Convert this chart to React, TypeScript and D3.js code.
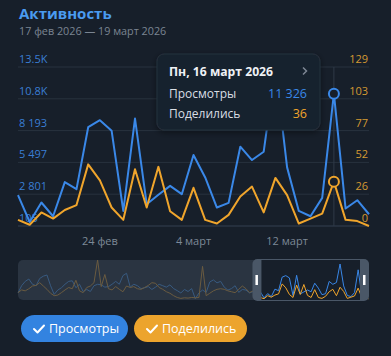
import React from 'react';
import * as d3 from 'd3';

// ---- data ----
const seriesNames = ['Просмотры', 'Поделились'];
const windowStart = new Date(2026, 1, 17);
const views = [2718, 445, 2096, 930, 3824, 3228, 8479, 9075, 8189, 1382, 9211, 1952, 2750, 3509, 2803, 6122, 4224, 1671, 2062, 6828, 5696, 6402, 13585, 5075, 1382, 930, 2488, 11326, 1586, 2292, 1100];
const shares = [5, 1, 11, 6, 13, 17, 50, 37, 15, 5, 46, 15, 48, 12, 5, 31, 5, 2, 9, 24, 32, 11, 39, 25, 2, 6, 10, 36, 5, 4, 0];
// earlier days (overview only)
const priorViews = [2351, 5159, 6843, 7741, 5720, 5159, 7966, 8864, 9314, 5159, 1790, 3474, 4372, 5720, 6843, 7068, 4372, 5720, 2913, 3699, 2913, 5159, 5720, 5495, 4597, 4822, 5720, 6843, 5720, 9089, 9987, 4597, 5720, 5159, 4036, 4372, 4822, 3699, 4597, 5720, 5159, 4597, 5495, 4036, 3249, 2351, 3699, 2913, 4036, 105, 2351, 3474, 2576, 6618, 7404, 6282, 6843, 4597, 3474, 4036, 5159, 2576, 3699, 3474, 2351, 2913, 1790];
const priorShares = [21, 30, 27, 34, 43, 45, 54, 43, 32, 19, 11, 13, 21, 30, 38, 34, 62, 27, 21, 38, 43, 54, 129, 41, 81, 34, 30, 41, 32, 24, 43, 38, 41, 34, 32, 38, 45, 54, 52, 38, 32, 24, 19, 11, 5, 2, 4, 3, 5, 4, 5, 108, 11, 19, 27, 32, 34, 32, 27, 24, 21, 32, 43, 34, 21, 27, 19];
const leftTicks = [105, 2801, 5497, 8193, 10889, 13585];
const leftTickLabels = ['105', '2 801', '5 497', '8 193', '10.8K', '13.5K'];
const rightTicks = [0, 25.8, 51.6, 77.4, 103.2, 129];
const rightTickLabels = ['0', '26', '52', '77', '103', '129'];
const xTickDates = [new Date(2026, 1, 24), new Date(2026, 2, 4), new Date(2026, 2, 12)];
const xTickLabels = ['24 фев', '4 март', '12 март'];
const hoverIndex = 27;
const tooltipTitle = 'Пн, 16 март 2026';
const tooltipValues = ['11 326', '36'];
const title = 'Активность';
const subtitle = '17 фев 2026 — 19 март 2026';

const BLUE = '#3a88e8';
const ORANGE = '#f0a52c';
const BG = '#171f2a';
const FONT = '"Open Sans", "Noto Sans", sans-serif';

export default function App() {
  const dates = views.map((_, i) => d3.timeDay.offset(windowStart, i));
  const x = d3.scaleTime().domain([dates[0], dates[dates.length - 1]]).range([18, 369]);
  const yL = d3.scaleLinear().domain([105, 13585]).range([226, 67]);
  const yR = d3.scaleLinear().domain([0, 129]).range([226, 67]);

  const lineV = d3.line<number>().x((_, i) => x(dates[i])).y((d) => yL(d));
  const lineS = d3.line<number>().x((_, i) => x(dates[i])).y((d) => yR(d));

  // overview
  const allViews = priorViews.concat(views);
  const allShares = priorShares.concat(shares);
  const n = allViews.length;
  const xo = d3.scaleLinear().domain([0, n - 1]).range([18, 369]);
  const yoV = d3.scaleLinear().domain([0, 13585]).range([299, 264]);
  const yoS = d3.scaleLinear().domain([0, 129]).range([299, 260]);
  const oLineV = d3.line<number>().x((_, i) => xo(i)).y((d) => yoV(d));
  const oLineS = d3.line<number>().x((_, i) => xo(i)).y((d) => yoS(d));
  const winL = xo(priorViews.length) - 8;
  const winR = xo(n - 1) - 9;

  const hx = x(dates[hoverIndex]);

  const check = (cx: number, cy: number) => `M${cx - 5},${cy} L${cx - 1.5},${cy + 3.5} L${cx + 5},${cy - 3.5}`;

  return (
    <svg width={391} height={356} style={{ position: 'absolute', left: 0, top: 0, fontFamily: FONT }}>
      <defs>
        <clipPath id="win">
          <rect x={winL + 9} y={255} width={winR - winL - 9} height={50} />
        </clipPath>
        <filter id="sh" x="-20%" y="-20%" width="140%" height="150%">
          <feDropShadow dx="0" dy="2" stdDeviation="3" floodColor="#000" floodOpacity="0.45" />
        </filter>
      </defs>
      <rect x={0} y={0} width={391} height={356} fill={BG} />
      <text x={19} y={19} fill="#4a9bf0" fontSize={15} fontWeight={700}>{title}</text>
      <text x={19} y={35} fill="#7b8592" fontSize={10.8}>{subtitle}</text>

      {/* grid */}
      {leftTicks.map((t, i) => (
        <line key={'g' + i} x1={18} x2={369} y1={yL(t)} y2={yL(t)} stroke={i === 0 ? '#344050' : '#28323e'} strokeWidth={1} />
      ))}
      {leftTicks.map((t, i) => (
        <text key={'l' + i} x={19} y={yL(t) - 4} fill="#3a7ed4" fontSize={11}>{leftTickLabels[i]}</text>
      ))}
      {rightTicks.map((t, i) => (
        <text key={'r' + i} x={368} y={yR(t) - 4} fill="#d49a32" fontSize={11} textAnchor="end">{rightTickLabels[i]}</text>
      ))}
      {xTickDates.map((d, i) => (
        <text key={'x' + i} x={x(d)} y={245} fill="#7d8997" fontSize={11} textAnchor="middle">{xTickLabels[i]}</text>
      ))}

      {/* crosshair */}
      <line x1={hx} x2={hx} y1={67} y2={226} stroke="#2f3a47" strokeWidth={1} />

      <path d={lineV(views) || ''} fill="none" stroke={BLUE} strokeWidth={2} strokeLinejoin="round" />
      <path d={lineS(shares) || ''} fill="none" stroke={ORANGE} strokeWidth={2} strokeLinejoin="round" />
      <circle cx={hx} cy={yL(views[hoverIndex])} r={5} fill={BG} stroke={BLUE} strokeWidth={2} />
      <circle cx={hx} cy={yR(shares[hoverIndex])} r={5} fill={BG} stroke={ORANGE} strokeWidth={2} />

      {/* tooltip */}
      <g filter="url(#sh)">
        <rect x={157} y={54} width={163} height={76} rx={7} fill="#19222d" stroke="#26303c" />
      </g>
      <text x={169} y={76} fill="#eef1f5" fontSize={12.2} fontWeight={700}>{tooltipTitle}</text>
      <path d="M303,67.5 L306.5,71 L303,74.5" fill="none" stroke="#7d8794" strokeWidth={1.5} />
      <text x={169} y={98} fill="#d9dee4" fontSize={12}>{seriesNames[0]}</text>
      <text x={307} y={98} fill={BLUE} fontSize={12.5} textAnchor="end">{tooltipValues[0]}</text>
      <text x={169} y={118} fill="#d9dee4" fontSize={12}>{seriesNames[1]}</text>
      <text x={307} y={118} fill={ORANGE} fontSize={12.5} textAnchor="end">{tooltipValues[1]}</text>

      {/* overview */}
      <rect x={18} y={260} width={351} height={40} rx={5} fill="#2a3441" />
      <path d={oLineV(allViews) || ''} fill="none" stroke="#385a80" strokeWidth={1} />
      <path d={oLineS(allShares) || ''} fill="none" stroke="#6a5b40" strokeWidth={1} />
      <rect x={winL} y={259} width={369 - winL} height={42} rx={5} fill="#4a5767" />
      <rect x={winL + 9} y={260} width={winR - winL - 9} height={40} fill={BG} />
      <g clipPath="url(#win)">
        <path d={oLineV(allViews) || ''} fill="none" stroke={BLUE} strokeWidth={1} />
        <path d={oLineS(allShares) || ''} fill="none" stroke={ORANGE} strokeWidth={1} />
      </g>
      <rect x={winL + 3} y={275} width={2.5} height={10} fill="#ffffff" />
      <rect x={winR + 3} y={275} width={2.5} height={10} fill="#ffffff" />

      {/* legend */}
      <rect x={21} y={315} width={107} height={27} rx={13.5} fill="#3383e0" />
      <path d={check(39, 329)} fill="none" stroke="#fff" strokeWidth={2} strokeLinecap="round" strokeLinejoin="round" />
      <text x={49} y={333} fill="#fff" fontSize={12.5}>{seriesNames[0]}</text>
      <rect x={134} y={315} width={113} height={27} rx={13.5} fill="#eca42d" />
      <path d={check(152, 329)} fill="none" stroke="#fff" strokeWidth={2} strokeLinecap="round" strokeLinejoin="round" />
      <text x={162} y={333} fill="#fff" fontSize={12.5}>{seriesNames[1]}</text>
    </svg>
  );
}
